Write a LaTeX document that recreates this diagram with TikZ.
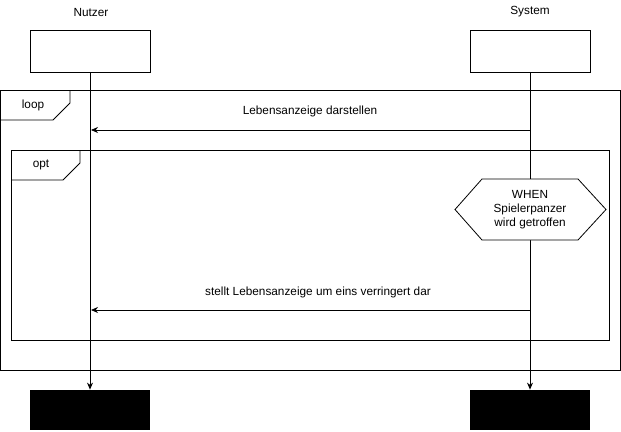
\documentclass[tikz,border=0pt]{standalone}
\usepackage{fontspec}
\setmainfont{Liberation Sans}
\usetikzlibrary{arrows.meta}
\begin{document}
\begin{tikzpicture}[x=1pt, y=-1pt, line width=0.8pt,
  head/.style={draw, minimum width=120pt, minimum height=42pt, inner sep=0pt},
  tail/.style={fill=black, minimum width=120pt, minimum height=40pt, inner sep=0pt},
  msg/.style={-{Stealth[length=7pt, width=6pt]}},
  lbl/.style={font=\fontsize{11.8}{14}\selectfont}]
  \useasboundingbox (0,0) rectangle (621,431);
  % Combined fragments (loop outside, opt inside)
  \draw (0.5,90) rectangle (620,370);
  \draw (0.5,120) -- (53,120) -- (70,103) -- (70,90);
  \node[lbl] (loopLbl) at (33,105) {loop};
  \draw (11,150) rectangle (609,340);
  \draw (11,180) -- (63,180) -- (80,163) -- (80,150);
  \node[lbl] (optLbl) at (41,165) {opt};
  % Participants
  \node[lbl] (nutzerName) at (91,12) {Nutzer};
  \node[lbl] (systemName) at (530,12) {System};
  \node[head] (nutzer) at (90,51) {};
  \node[head] (system) at (530,51) {};
  \node[tail] (nutzerEnd) at (90,410) {};
  \node[tail] (systemEnd) at (530,410) {};
  % Lifelines
  \draw[msg] (nutzer.south) -- (nutzerEnd.north);
  \draw[msg] (system.south) -- (systemEnd.north);
  % Guard condition
  \filldraw[fill=white] (455,209.5) -- (482,179) -- (578,179) -- (606,209.5)
    -- (578,240) -- (482,240) -- cycle;
  \node[lbl, align=center] (cond) at (530,209.5)
    {WHEN\\Spielerpanzer\\wird getroffen};
  % Messages
  \coordinate (m1s) at (530,130);
  \coordinate (m1n) at (91,130);
  \draw[msg] (m1s) -- (m1n);
  \node[lbl] (m1Lbl) at (310,111) {Lebensanzeige darstellen};
  \coordinate (m2s) at (530,310);
  \coordinate (m2n) at (91,310);
  \draw[msg] (m2s) -- (m2n);
  \node[lbl] (m2Lbl) at (318,292) {stellt Lebensanzeige um eins verringert dar};
\end{tikzpicture}
\end{document}
